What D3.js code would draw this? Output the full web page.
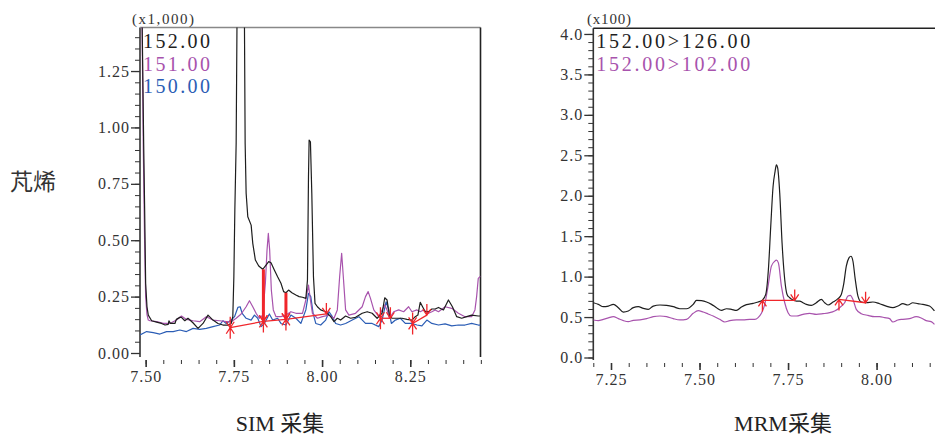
<!DOCTYPE html>
<html>
<head>
<meta charset="utf-8">
<script src="https://cdn.jsdelivr.net/npm/d3@7"></script>
<style>
  body { margin: 0; background: #fff; }
  .tick text { font-family: 'Liberation Serif', serif; font-size: 16px; fill: #333; letter-spacing: 1px; }
  .tick line { stroke: #333; }
</style>
</head>
<body>
<svg id="chart" width="935" height="435"></svg>
<script>
// SIM traces, [time (min), intensity x1,000]
const sim152 = [
  [7.489, 1.6], [7.4944, 0.929], [7.4972, 0.634], [7.5, 0.309], [7.5038, 0.205], [7.5075, 0.168],
  [7.517, 0.143], [7.531, 0.137], [7.545, 0.131], [7.555, 0.124], [7.564, 0.127], [7.566, 0.143],
  [7.5705, 0.131], [7.583, 0.131], [7.587, 0.149], [7.597, 0.158], [7.6015, 0.158], [7.611, 0.143],
  [7.62, 0.154], [7.634, 0.134], [7.6485, 0.109], [7.6626, 0.131], [7.6767, 0.168], [7.6908, 0.146],
  [7.705, 0.131], [7.719, 0.124], [7.733, 0.124], [7.7425, 0.131], [7.747, 0.161], [7.75, 0.338],
  [7.7528, 0.634], [7.7565, 0.929], [7.7595, 1.6], [7.7795, 1.6], [7.782, 0.929], [7.7848, 0.708],
  [7.7895, 0.604], [7.799, 0.567], [7.8036, 0.486], [7.811, 0.412], [7.8205, 0.386], [7.8318, 0.371],
  [7.8412, 0.39], [7.8487, 0.405], [7.8553, 0.4], [7.8647, 0.368], [7.874, 0.338], [7.8835, 0.309],
  [7.891, 0.272], [7.8976, 0.267], [7.905, 0.279], [7.9145, 0.267], [7.9258, 0.257], [7.935, 0.25],
  [7.9445, 0.247], [7.954, 0.242], [7.9586, 0.323], [7.9615, 0.781], [7.9633, 0.944], [7.967, 0.936],
  [7.9709, 0.708], [7.9756, 0.338], [7.98, 0.22], [7.9868, 0.205], [7.996, 0.191], [8.0103, 0.183],
  [8.0244, 0.161], [8.0338, 0.139], [8.0432, 0.154], [8.0526, 0.146], [8.0667, 0.164], [8.0808, 0.154],
  [8.0949, 0.158], [8.1137, 0.176], [8.1278, 0.183], [8.1419, 0.176], [8.156, 0.154], [8.1701, 0.176],
  [8.1776, 0.245], [8.1842, 0.235], [8.1908, 0.168], [8.1983, 0.154], [8.2124, 0.154], [8.2265, 0.154],
  [8.2406, 0.149], [8.2547, 0.146], [8.2641, 0.161], [8.2716, 0.168], [8.2782, 0.225], [8.2848, 0.205],
  [8.2923, 0.183], [8.3017, 0.183], [8.3111, 0.195], [8.3205, 0.195], [8.3299, 0.202], [8.344, 0.191],
  [8.3581, 0.235], [8.3694, 0.205], [8.3816, 0.161], [8.3957, 0.154], [8.4098, 0.161], [8.4239, 0.168],
  [8.4427, 0.164], [8.449, 0.164]
];
const sim151 = [
  [7.489, 1.6], [7.4934, 0.9], [7.497, 0.5], [7.5, 0.25], [7.5038, 0.17], [7.5075, 0.146], [7.5122, 0.143],
  [7.531, 0.139], [7.55, 0.131], [7.5686, 0.131], [7.5874, 0.146], [7.6015, 0.164], [7.6156, 0.149],
  [7.6344, 0.143], [7.6532, 0.139], [7.672, 0.161], [7.6908, 0.146], [7.7096, 0.143], [7.7284, 0.139],
  [7.7425, 0.139], [7.7566, 0.154], [7.7707, 0.173], [7.7848, 0.205], [7.7942, 0.232], [7.8036, 0.205],
  [7.813, 0.176], [7.8224, 0.154], [7.8318, 0.168], [7.8393, 0.309], [7.844, 0.456], [7.8477, 0.53],
  [7.8515, 0.456], [7.8562, 0.279], [7.8618, 0.191], [7.8694, 0.161], [7.8835, 0.161], [7.8976, 0.168],
  [7.9117, 0.183], [7.9258, 0.176], [7.9445, 0.176], [7.954, 0.235], [7.9615, 0.301], [7.967, 0.235],
  [7.9727, 0.176], [7.9868, 0.154], [8.0009, 0.161], [8.0197, 0.168], [8.0338, 0.154], [8.0432, 0.191],
  [8.0498, 0.338], [8.0555, 0.442], [8.0602, 0.338], [8.0667, 0.191], [8.0761, 0.168], [8.0949, 0.176],
  [8.1137, 0.205], [8.1231, 0.25], [8.1306, 0.272], [8.1372, 0.242], [8.1466, 0.191], [8.1607, 0.161],
  [8.1701, 0.191], [8.1776, 0.213], [8.1842, 0.191], [8.1908, 0.154], [8.203, 0.183], [8.2171, 0.191],
  [8.2312, 0.183], [8.2453, 0.205], [8.2547, 0.183], [8.2688, 0.191], [8.2782, 0.183], [8.2876, 0.191],
  [8.3017, 0.176], [8.3111, 0.183], [8.3205, 0.191], [8.3299, 0.183], [8.3487, 0.205], [8.3675, 0.198],
  [8.3863, 0.176], [8.4051, 0.161], [8.4239, 0.161], [8.4333, 0.191], [8.438, 0.25], [8.4427, 0.331],
  [8.449, 0.34]
];
const sim150 = [
  [7.484, 0.08], [7.5028, 0.095], [7.5216, 0.09], [7.5404, 0.084], [7.5592, 0.095], [7.578, 0.095],
  [7.5968, 0.102], [7.6156, 0.095], [7.6344, 0.109], [7.6532, 0.105], [7.672, 0.109], [7.6908, 0.117],
  [7.7096, 0.124], [7.719, 0.143], [7.7284, 0.131], [7.7425, 0.146], [7.7519, 0.161], [7.7613, 0.202],
  [7.7679, 0.205], [7.7735, 0.176], [7.7848, 0.154], [7.7989, 0.146], [7.8083, 0.168], [7.8177, 0.154],
  [7.8271, 0.117], [7.8365, 0.131], [7.8506, 0.173], [7.86, 0.146], [7.874, 0.154], [7.8835, 0.131],
  [7.8976, 0.124], [7.9117, 0.168], [7.9258, 0.154], [7.9398, 0.131], [7.954, 0.191], [7.9615, 0.264],
  [7.968, 0.25], [7.9746, 0.176], [7.9821, 0.131], [7.9962, 0.124], [8.0103, 0.146], [8.0197, 0.183],
  [8.0291, 0.161], [8.0385, 0.131], [8.0526, 0.124], [8.0667, 0.131], [8.0855, 0.146], [8.1043, 0.161],
  [8.1231, 0.131], [8.1419, 0.131], [8.1607, 0.117], [8.1701, 0.146], [8.1814, 0.227], [8.1889, 0.191],
  [8.1964, 0.131], [8.2077, 0.146], [8.2218, 0.154], [8.2359, 0.131], [8.2547, 0.131], [8.2688, 0.124],
  [8.2829, 0.12], [8.297, 0.146], [8.3111, 0.131], [8.3299, 0.124], [8.3487, 0.129], [8.3675, 0.12],
  [8.3863, 0.124], [8.4051, 0.124], [8.4239, 0.131], [8.4427, 0.124], [8.449, 0.124]
];

// MRM traces, [time (min), intensity x100]
const mrm126 = [
  [7.2002, 0.677], [7.2143, 0.657], [7.2284, 0.628], [7.2425, 0.636], [7.2566, 0.657], [7.2707, 0.616],
  [7.2848, 0.562], [7.2989, 0.575], [7.313, 0.616], [7.3271, 0.628], [7.3412, 0.608], [7.3553, 0.595],
  [7.3694, 0.636], [7.3882, 0.649], [7.407, 0.644], [7.4258, 0.628], [7.4446, 0.603], [7.4633, 0.603],
  [7.4821, 0.657], [7.4915, 0.706], [7.5056, 0.702], [7.5197, 0.686], [7.5338, 0.657], [7.5479, 0.616],
  [7.562, 0.583], [7.5761, 0.603], [7.5902, 0.595], [7.6043, 0.583], [7.6184, 0.624], [7.6325, 0.653],
  [7.6513, 0.669], [7.6654, 0.686], [7.6776, 0.71], [7.687, 0.78], [7.6945, 1.088], [7.7011, 1.621],
  [7.7077, 2.114], [7.7133, 2.299], [7.7171, 2.381], [7.7208, 2.34], [7.7265, 2.032], [7.7331, 1.416],
  [7.7406, 0.965], [7.7472, 0.78], [7.7547, 0.739], [7.7641, 0.71], [7.7735, 0.698], [7.7829, 0.698],
  [7.7923, 0.677], [7.8017, 0.657], [7.8158, 0.644], [7.8298, 0.677], [7.844, 0.718], [7.8534, 0.677],
  [7.8628, 0.649], [7.8769, 0.686], [7.891, 0.727], [7.9004, 0.78], [7.907, 0.903], [7.9145, 1.129],
  [7.922, 1.232], [7.9276, 1.252], [7.9333, 1.19], [7.9398, 0.965], [7.9474, 0.759], [7.9568, 0.686],
  [7.9709, 0.677], [7.9897, 0.686], [8.0085, 0.665], [8.0273, 0.636], [8.0461, 0.616], [8.0602, 0.636],
  [8.0742, 0.665], [8.0883, 0.649], [8.1024, 0.677], [8.1166, 0.665], [8.1306, 0.657], [8.1494, 0.636],
  [8.1635, 0.575]
];
const mrm102 = [
  [7.2002, 0.464], [7.2143, 0.456], [7.2284, 0.472], [7.2425, 0.489], [7.2566, 0.505], [7.2707, 0.48],
  [7.2848, 0.456], [7.2989, 0.443], [7.313, 0.46], [7.3318, 0.464], [7.3506, 0.48], [7.3694, 0.505],
  [7.3882, 0.513], [7.407, 0.505], [7.4258, 0.48], [7.4446, 0.464], [7.4633, 0.472], [7.4821, 0.546],
  [7.4962, 0.579], [7.5103, 0.562], [7.5244, 0.538], [7.5385, 0.513], [7.5573, 0.472], [7.5714, 0.439],
  [7.5855, 0.456], [7.6043, 0.464], [7.6231, 0.464], [7.6419, 0.472], [7.656, 0.472], [7.6654, 0.493],
  [7.6748, 0.546], [7.6842, 0.657], [7.6936, 0.883], [7.703, 1.129], [7.7124, 1.19], [7.7171, 1.203],
  [7.7227, 1.17], [7.7312, 0.883], [7.7406, 0.677], [7.75, 0.554], [7.7594, 0.513], [7.7735, 0.513],
  [7.7923, 0.534], [7.8111, 0.546], [7.8298, 0.534], [7.8487, 0.542], [7.8675, 0.554], [7.8816, 0.575],
  [7.8957, 0.616], [7.9098, 0.677], [7.9192, 0.759], [7.9258, 0.768], [7.9333, 0.718], [7.9427, 0.595],
  [7.9568, 0.542], [7.9756, 0.521], [7.9944, 0.505], [8.0085, 0.505], [8.0226, 0.493], [8.0367, 0.48],
  [8.0461, 0.439], [8.0602, 0.464], [8.0742, 0.472], [8.093, 0.48], [8.1118, 0.505], [8.1259, 0.489],
  [8.14, 0.456], [8.1541, 0.443], [8.1635, 0.41]
];

// integration marks: start / end of each peak, optional drop line height
const simPeaks = [
  { start: [7.7397, 0.112], end: [7.8337, 0.14], drop: 0.371 },
  { start: [7.8337, 0.14], end: [7.8976, 0.149], drop: 0.267 },
  { start: [7.8976, 0.149], end: [8.0122, 0.173] },
  { start: [8.1654, 0.154], end: [8.1936, 0.154] },
  { start: [8.2566, 0.131], end: [8.297, 0.168] },
];
const mrmPeaks = [
  { start: [7.6776, 0.706], end: [7.7688, 0.706] },
  { start: [7.8938, 0.718], end: [7.969, 0.677] },
];

const simYTicks = [0, 0.25, 0.5, 0.75, 1.0, 1.25];
const simXTicks = [7.5, 7.75, 8.0, 8.25];
const mrmYTicks = [0, 0.5, 1.0, 1.5, 2.0, 2.5, 3.0, 3.5, 4.0];
const mrmXTicks = [7.25, 7.5, 7.75, 8.0];
const simLegend = ['152.00', '151.00', '150.00'];
const mrmLegend = ['152.00>126.00', '152.00>102.00'];

const BLACK = '#1e1e1e';
const PURPLE = '#a853ad';
const BLUE = '#2b5db5';
const RED = '#f0262b';

const svg = d3.select('#chart');

const arrow = (g, px, py, up) => {
  const s = up ? 1 : -1;
  g.append('path')
    .attr('d', `M${px},${py + s * 11}L${px},${py}M${px - 4},${py + s * 6}L${px},${py}L${px + 4},${py + s * 6}`)
    .attr('fill', 'none')
    .attr('stroke', RED)
    .attr('stroke-width', 1.3);
};

const drawPanel = (cfg) => {
  const { id, x, y, bottom, series, peaks, yTicks, yMinor, xTicks, xMinor, yFormat, legend, legendLen, scaleText } = cfg;
  const [x0, x1] = x.range();
  const top = y.range()[1];
  const g = svg.append('g');

  g.append('clipPath').attr('id', id)
    .append('rect')
    .attr('x', x0).attr('y', top)
    .attr('width', x1 - x0).attr('height', bottom - top);

  // minor + major y ticks
  g.append('g')
    .attr('transform', `translate(${x0},0)`)
    .call(d3.axisLeft(y).tickValues(yMinor).tickSize(5).tickSizeOuter(0).tickFormat(''))
    .call((a) => a.select('.domain').remove());
  g.append('g')
    .attr('transform', `translate(${x0},0)`)
    .call(d3.axisLeft(y).tickValues(yTicks).tickSize(9).tickSizeOuter(0).tickPadding(1).tickFormat(yFormat))
    .call((a) => a.select('.domain').remove())
    .call((a) => a.selectAll('.tick line').attr('stroke-width', 1.3));

  // x ticks hang below the plot
  g.append('g')
    .attr('transform', `translate(0,${bottom + 3})`)
    .call(d3.axisBottom(x).tickValues(xMinor).tickSize(4).tickSizeOuter(0).tickFormat(''))
    .call((a) => a.select('.domain').remove());
  g.append('g')
    .attr('transform', `translate(0,${bottom + 3})`)
    .call(d3.axisBottom(x).tickValues(xTicks).tickSize(7).tickSizeOuter(0).tickPadding(4).tickFormat(d3.format('.2f')))
    .call((a) => a.select('.domain').remove())
    .call((a) => a.selectAll('.tick line').attr('stroke-width', 1.6));

  // frame
  g.append('line')
    .attr('x1', x0).attr('x2', x0).attr('y1', top).attr('y2', bottom)
    .attr('stroke', '#333').attr('stroke-width', 1.6);
  g.append('line')
    .attr('x1', x0).attr('x2', x1).attr('y1', top).attr('y2', top)
    .attr('stroke', cfg.topColor).attr('stroke-width', 1.6);
  if (cfg.rightBorder) {
    g.append('line')
      .attr('x1', x1).attr('x2', x1).attr('y1', top).attr('y2', bottom)
      .attr('stroke', '#222').attr('stroke-width', 1.6);
  }

  const line = d3.line()
    .x((d) => x(d[0]))
    .y((d) => y(d[1]))
    .curve(cfg.curve);

  const plot = g.append('g').attr('clip-path', `url(#${id})`);
  series.slice().reverse().forEach((s) => {
    plot.append('path')
      .datum(s.values)
      .attr('d', line)
      .attr('fill', 'none')
      .attr('stroke', s.color)
      .attr('stroke-width', 1.2)
      .attr('stroke-linejoin', 'round');
  });

  // integration baselines and markers
  const marks = g.append('g');
  peaks.forEach((p) => {
    marks.append('line')
      .attr('x1', x(p.start[0])).attr('y1', y(p.start[1]))
      .attr('x2', x(p.end[0])).attr('y2', y(p.end[1]))
      .attr('stroke', RED).attr('stroke-width', 1.3);
    if (p.drop !== undefined) {
      marks.append('line')
        .attr('x1', x(p.end[0])).attr('y1', y(p.end[1]))
        .attr('x2', x(p.end[0])).attr('y2', y(p.drop))
        .attr('stroke', RED).attr('stroke-width', 3);
    }
    arrow(marks, x(p.start[0]), y(p.start[1]), true);
    if (cfg.startBoth) arrow(marks, x(p.start[0]), y(p.start[1]), false);
    arrow(marks, x(p.end[0]), y(p.end[1]), false);
  });

  // legend
  series.forEach((s, i) => {
    g.append('text')
      .attr('x', x0 + 3)
      .attr('y', 48 + i * 22.5)
      .attr('textLength', legendLen)
      .attr('lengthAdjust', 'spacing')
      .style('font-family', "'Liberation Serif', serif")
      .style('font-size', '20px')
      .attr('fill', s.color)
      .text(legend[i]);
  });

  g.append('text')
    .attr('x', scaleText.x)
    .attr('y', 24)
    .attr('textLength', scaleText.len)
    .attr('lengthAdjust', 'spacing')
    .style('font-family', "'Liberation Serif', serif")
    .style('font-size', '15px')
    .attr('fill', '#333')
    .text(scaleText.text);
};

drawPanel({
  id: 'clip-sim',
  x: d3.scaleLinear().domain([7.484, 8.449]).range([140, 480.5]),
  y: d3.scaleLinear().domain([0, 1.443]).range([353, 27.5]),
  bottom: 357,
  series: [
    { values: sim152, color: BLACK },
    { values: sim151, color: PURPLE },
    { values: sim150, color: BLUE },
  ],
  peaks: simPeaks,
  yTicks: simYTicks,
  yMinor: d3.range(0, 29).map((i) => i * 0.05),
  xTicks: simXTicks,
  xMinor: d3.range(0, 20).map((i) => 7.5 + i * 0.05),
  yFormat: d3.format('.2f'),
  legend: simLegend,
  legendLen: 67,
  scaleText: { x: 132, len: 62, text: '(x1,000)' },
  topColor: '#888',
  rightBorder: true,
  startBoth: true,
  curve: d3.curveLinear,
});

drawPanel({
  id: 'clip-mrm',
  x: d3.scaleLinear().domain([7.2, 8.165]).range([593.3, 935]),
  y: d3.scaleLinear().domain([0, 4.07]).range([357.5, 28.3]),
  bottom: 360,
  series: [
    { values: mrm126, color: BLACK },
    { values: mrm102, color: PURPLE },
  ],
  peaks: mrmPeaks,
  yTicks: mrmYTicks,
  yMinor: d3.range(0, 41).map((i) => i * 0.1),
  xTicks: mrmXTicks,
  xMinor: d3.range(0, 20).map((i) => 7.2 + i * 0.05),
  yFormat: d3.format('.1f'),
  legend: mrmLegend,
  legendLen: 154,
  scaleText: { x: 587, len: 44, text: '(x100)' },
  topColor: '#222',
  rightBorder: false,
  startBoth: false,
  curve: d3.curveMonotoneX,
});

// side label and panel titles
svg.append('text')
  .attr('x', 10).attr('y', 190)
  .style('font-family', "'Noto Sans CJK SC', sans-serif")
  .style('font-size', '23px')
  .attr('fill', '#333')
  .text('芃烯');

svg.selectAll('text.title')
  .data([{ t: 'SIM 采集', x: 280 }, { t: 'MRM采集', x: 783 }])
  .join('text')
  .attr('class', 'title')
  .attr('x', (d) => d.x).attr('y', 431)
  .attr('text-anchor', 'middle')
  .style('font-family', "'Liberation Serif', 'Noto Sans CJK SC', serif")
  .style('font-size', '22px')
  .attr('fill', '#222')
  .text((d) => d.t);
</script>
</body>
</html>
